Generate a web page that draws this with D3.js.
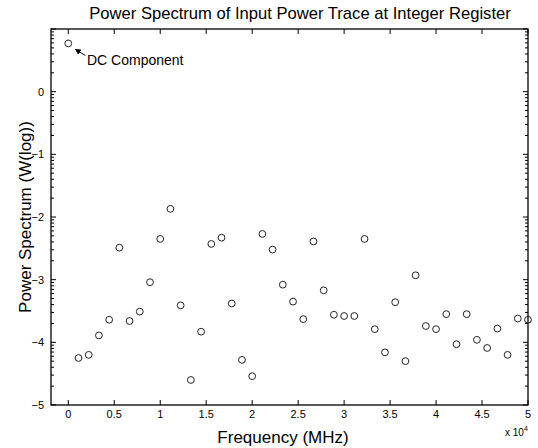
<!DOCTYPE html>
<html>
<head>
<meta charset="utf-8">
<script src="https://cdn.jsdelivr.net/npm/d3@7"></script>
<style>
  body { margin: 0; background: #fff; }
  text { font-family: "Liberation Sans", Arial, sans-serif; fill: #000; }
</style>
</head>
<body>
<div id="chart"></div>
<script>
// Data
const frequencies = [0, 1111, 2222, 3333, 4444, 5556, 6667, 7778, 8889, 10000,
    11111, 12222, 13333, 14444, 15556, 16667, 17778, 18889, 20000, 21111,
    22222, 23333, 24444, 25556, 26667, 27778, 28889, 30000, 31111, 32222,
    33333, 34444, 35556, 36667, 37778, 38889, 40000, 41111, 42222, 43333,
    44444, 45556, 46667, 47778, 48889, 50000];
const powerLog = [0.77, -4.25, -4.20, -3.89, -3.64, -2.49, -3.66, -3.51, -3.04, -2.35,
    -1.87, -3.41, -4.60, -3.83, -2.43, -2.33, -3.38, -4.28, -4.54, -2.27,
    -2.52, -3.08, -3.35, -3.63, -2.39, -3.17, -3.56, -3.58, -3.58, -2.35,
    -3.79, -4.16, -3.36, -4.30, -2.93, -3.74, -3.79, -3.55, -4.03, -3.55,
    -3.96, -4.09, -3.78, -4.20, -3.62, -3.64];
const xTicks = [0, 5000, 10000, 15000, 20000, 25000, 30000, 35000, 40000, 45000, 50000];
const yTicks = [-5, -4, -3, -2, -1, 0];

const data = frequencies.map((f, i) => ({ f: f, p: powerLog[i] }));

const width = 538, height = 448;
const margin = { top: 29, right: 10, bottom: 43, left: 51 };

const svg = d3.select("#chart")
    .append("svg")
    .attr("width", width)
    .attr("height", height);

const x = d3.scaleLinear()
    .domain([-1880, 50000])
    .range([margin.left, width - margin.right]);

const y = d3.scaleLinear()
    .domain([-5, 1])
    .range([height - margin.bottom, margin.top]);

// Minor ticks in log style: n + log10(k)
const minorTicks = [];
for (let n = -5; n < 1; n++) {
    for (let k = 2; k <= 9; k++) minorTicks.push(n + Math.log10(k));
}

const x0 = margin.left, x1 = width - margin.right;
const y0 = height - margin.bottom, y1 = margin.top;

// Inward ticks, MATLAB style
const tickG = svg.append("g").attr("stroke", "#000").attr("stroke-width", 1);

xTicks.forEach(t => {
    tickG.append("line").attr("x1", x(t)).attr("x2", x(t)).attr("y1", y0).attr("y2", y0 - 5);
    tickG.append("line").attr("x1", x(t)).attr("x2", x(t)).attr("y1", y1).attr("y2", y1 + 5);
});
yTicks.concat([1]).forEach(t => {
    tickG.append("line").attr("x1", x0).attr("x2", x0 + 5).attr("y1", y(t)).attr("y2", y(t));
    tickG.append("line").attr("x1", x1).attr("x2", x1 - 5).attr("y1", y(t)).attr("y2", y(t));
});
minorTicks.forEach(t => {
    tickG.append("line").attr("x1", x0).attr("x2", x0 + 3).attr("y1", y(t)).attr("y2", y(t));
    tickG.append("line").attr("x1", x1).attr("x2", x1 - 3).attr("y1", y(t)).attr("y2", y(t));
});

// Box
svg.append("rect")
    .attr("x", x0)
    .attr("y", y1)
    .attr("width", x1 - x0)
    .attr("height", y0 - y1)
    .attr("fill", "none")
    .attr("stroke", "#000")
    .attr("stroke-width", 1.3);

// Tick labels
svg.selectAll(".xl")
    .data(xTicks)
    .enter()
    .append("text")
    .attr("x", d => x(d))
    .attr("y", y0 + 13)
    .attr("text-anchor", "middle")
    .attr("font-size", "11px")
    .text(d => d3.format("~g")(d / 10000));

svg.selectAll(".yl")
    .data(yTicks)
    .enter()
    .append("text")
    .attr("x", x0 - 7)
    .attr("y", d => y(d) + 4)
    .attr("text-anchor", "end")
    .attr("font-size", "11px")
    .text(d => d < 0 ? "\u2212" + Math.abs(d) : d);

// x 10^4 multiplier
const mult = svg.append("text")
    .attr("x", 505)
    .attr("y", 436)
    .attr("font-size", "10px");
mult.append("tspan").text("x 10");
mult.append("tspan").attr("dy", -5).attr("font-size", "7px").text("4");

// Points
svg.selectAll("circle")
    .data(data)
    .enter()
    .append("circle")
    .attr("cx", d => x(d.f))
    .attr("cy", d => y(d.p))
    .attr("r", 3.4)
    .attr("fill", "none")
    .attr("stroke", "#222")
    .attr("stroke-width", 1);

// Annotation
svg.append("defs").append("marker")
    .attr("id", "arrow")
    .attr("viewBox", "0 0 10 10")
    .attr("refX", 9)
    .attr("refY", 5)
    .attr("markerWidth", 6)
    .attr("markerHeight", 6)
    .attr("orient", "auto")
    .append("path")
    .attr("d", "M0,0 L10,5 L0,10 z")
    .attr("fill", "#000");

svg.append("line")
    .attr("x1", x(0) + 17)
    .attr("y1", y(powerLog[0]) + 12)
    .attr("x2", x(0) + 7)
    .attr("y2", y(powerLog[0]) + 6)
    .attr("stroke", "#000")
    .attr("stroke-width", 1)
    .attr("marker-end", "url(#arrow)");

svg.append("text")
    .attr("x", 87)
    .attr("y", 65)
    .attr("font-size", "14px")
    .text("DC Component");

// Title and axis labels
svg.append("text")
    .attr("x", 300)
    .attr("y", 19)
    .attr("text-anchor", "middle")
    .attr("font-size", "16.6px")
    .text("Power Spectrum of Input Power Trace at Integer Register");

svg.append("text")
    .attr("x", 283)
    .attr("y", 443)
    .attr("text-anchor", "middle")
    .attr("font-size", "17px")
    .text("Frequency (MHz)");

svg.append("text")
    .attr("transform", "translate(31," + (y0 + y1) / 2 + ") rotate(-90)")
    .attr("text-anchor", "middle")
    .attr("font-size", "17px")
    .text("Power Spectrum (W(log))");
</script>
</body>
</html>
